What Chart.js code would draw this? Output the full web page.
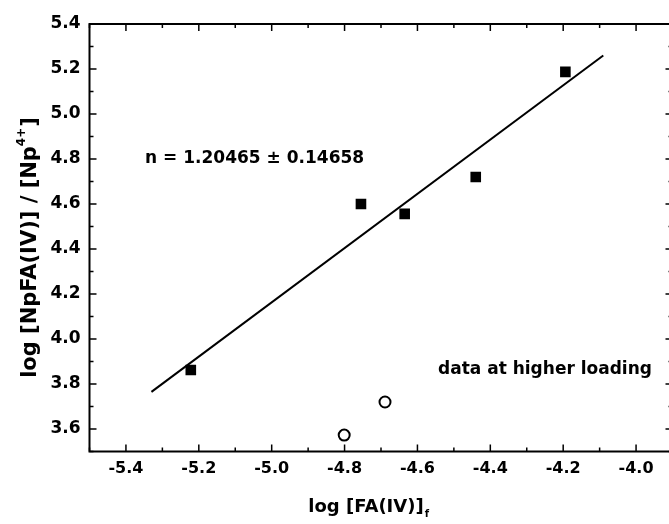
<!DOCTYPE html>
<html>
<head>
<meta charset="utf-8">
<script src="https://cdn.jsdelivr.net/npm/chart.js@4.4.0/dist/chart.umd.min.js"></script>
<style>
  html, body { margin: 0; padding: 0; background: #fff; overflow: hidden; }
  #wrap { width: 680px; height: 524px; }
</style>
</head>
<body>
<div id="wrap"><canvas id="chart"></canvas></div>
<script>
// data
const squareX = [-5.222, -4.755, -4.635, -4.44, -4.194];
const squareY = [3.862, 4.60, 4.556, 4.72, 5.187];
const circleX = [-4.801, -4.689];
const circleY = [3.573, 3.72];
const fitX = [-5.33, -4.09];
const fitY = [3.765, 5.26];
const xTicks = [-5.4, -5.2, -5.0, -4.8, -4.6, -4.4, -4.2, -4.0];
const yTicks = [3.6, 3.8, 4.0, 4.2, 4.4, 4.6, 4.8, 5.0, 5.2, 5.4];
const fitLabel = 'n = 1.20465 \u00b1 0.14658';
const noteLabel = 'data at higher loading';

const FONT = '"DejaVu Sans", "Liberation Sans", sans-serif';
const pts = (xs, ys) => xs.map((x, i) => ({ x: x, y: ys[i] }));

// frame, inward ticks, titles and notes
const framePlugin = {
  id: 'frame',
  afterDraw(chart) {
    const { ctx, chartArea: a, scales: { x, y } } = chart;
    ctx.save();
    ctx.strokeStyle = '#000';
    ctx.lineWidth = 2;
    ctx.strokeRect(a.left, a.top, a.right - a.left, a.bottom - a.top);

    ctx.lineWidth = 1.5;
    ctx.beginPath();
    for (let i = -55; i <= -39; i++) {
      const px = x.getPixelForValue(i / 10);
      const len = (i % 2 === 0) ? 7 : 4;
      ctx.moveTo(px, a.bottom); ctx.lineTo(px, a.bottom - len);
      ctx.moveTo(px, a.top); ctx.lineTo(px, a.top + len);
    }
    for (let i = 35; i <= 54; i++) {
      const py = y.getPixelForValue(i / 10);
      const len = (i % 2 === 0) ? 7 : 4;
      ctx.moveTo(a.left, py); ctx.lineTo(a.left + len, py);
      ctx.moveTo(a.right, py); ctx.lineTo(a.right - len, py);
    }
    ctx.stroke();

    ctx.fillStyle = '#000';
    ctx.textBaseline = 'middle';
    ctx.textAlign = 'left';

    // annotations
    ctx.font = 'bold 17px ' + FONT;
    ctx.fillText(fitLabel, 145, 159);
    ctx.fillText(noteLabel, 438, 370);

    // x title with subscript
    ctx.font = 'bold 18px ' + FONT;
    const main = 'log [FA(IV)]';
    const w = ctx.measureText(main).width;
    const cx = 366 - w / 2;
    ctx.fillText(main, cx, 507);
    ctx.font = 'bold 10px ' + FONT;
    ctx.fillText('f', cx + w + 1, 514);

    // y title with superscript
    ctx.translate(31, 248);
    ctx.rotate(-Math.PI / 2);
    ctx.font = 'bold 21px ' + FONT;
    const t1 = 'log [NpFA(IV)] / [Np';
    const w1 = ctx.measureText(t1).width;
    ctx.font = 'bold 12px ' + FONT;
    const w2 = ctx.measureText('4+').width;
    ctx.font = 'bold 21px ' + FONT;
    const start = -(w1 + w2 + ctx.measureText(']').width) / 2;
    ctx.fillText(t1, start, 0);
    ctx.font = 'bold 12px ' + FONT;
    ctx.fillText('4+', start + w1, -9);
    ctx.font = 'bold 21px ' + FONT;
    ctx.fillText(']', start + w1 + w2 + 1, 0);
    ctx.restore();
  }
};

new Chart(document.getElementById('chart'), {
  type: 'scatter',
  data: {
    datasets: [
      {
        label: 'fit',
        type: 'line',
        data: pts(fitX, fitY),
        borderColor: '#000',
        borderWidth: 2,
        pointRadius: 0,
        fill: false
      },
      {
        label: 'data',
        data: pts(squareX, squareY),
        pointStyle: 'rect',
        pointRadius: 7.5,
        backgroundColor: '#000',
        borderColor: '#000',
        borderWidth: 0
      },
      {
        label: 'higher loading',
        data: pts(circleX, circleY),
        pointStyle: 'circle',
        pointRadius: 5.5,
        backgroundColor: '#fff',
        borderColor: '#000',
        borderWidth: 2
      }
    ]
  },
  options: {
    responsive: true,
    maintainAspectRatio: false,
    animation: false,
    layout: { padding: { left: 0, right: 5, top: 24, bottom: 0 } },
    plugins: { legend: { display: false }, tooltip: { enabled: false } },
    scales: {
      x: {
        type: 'linear',
        min: -5.5,
        max: -3.9,
        grid: { display: false, drawTicks: false },
        border: { display: false },
        afterBuildTicks: s => { s.ticks = xTicks.map(v => ({ value: v })); },
        afterFit: s => { s.height = 72.5; },
        ticks: {
          padding: 8,
          color: '#000',
          font: { family: FONT, size: 16, weight: 'bold' },
          callback: v => v.toFixed(1)
        }
      },
      y: {
        type: 'linear',
        min: 3.5,
        max: 5.4,
        grid: { display: false, drawTicks: false },
        border: { display: false },
        afterBuildTicks: s => { s.ticks = yTicks.map(v => ({ value: v })); },
        afterFit: s => { s.width = 89.5; },
        ticks: {
          padding: 9,
          color: '#000',
          font: { family: FONT, size: 17, weight: 'bold' },
          callback: v => v.toFixed(1)
        }
      }
    }
  },
  plugins: [framePlugin]
});
</script>
</body>
</html>
